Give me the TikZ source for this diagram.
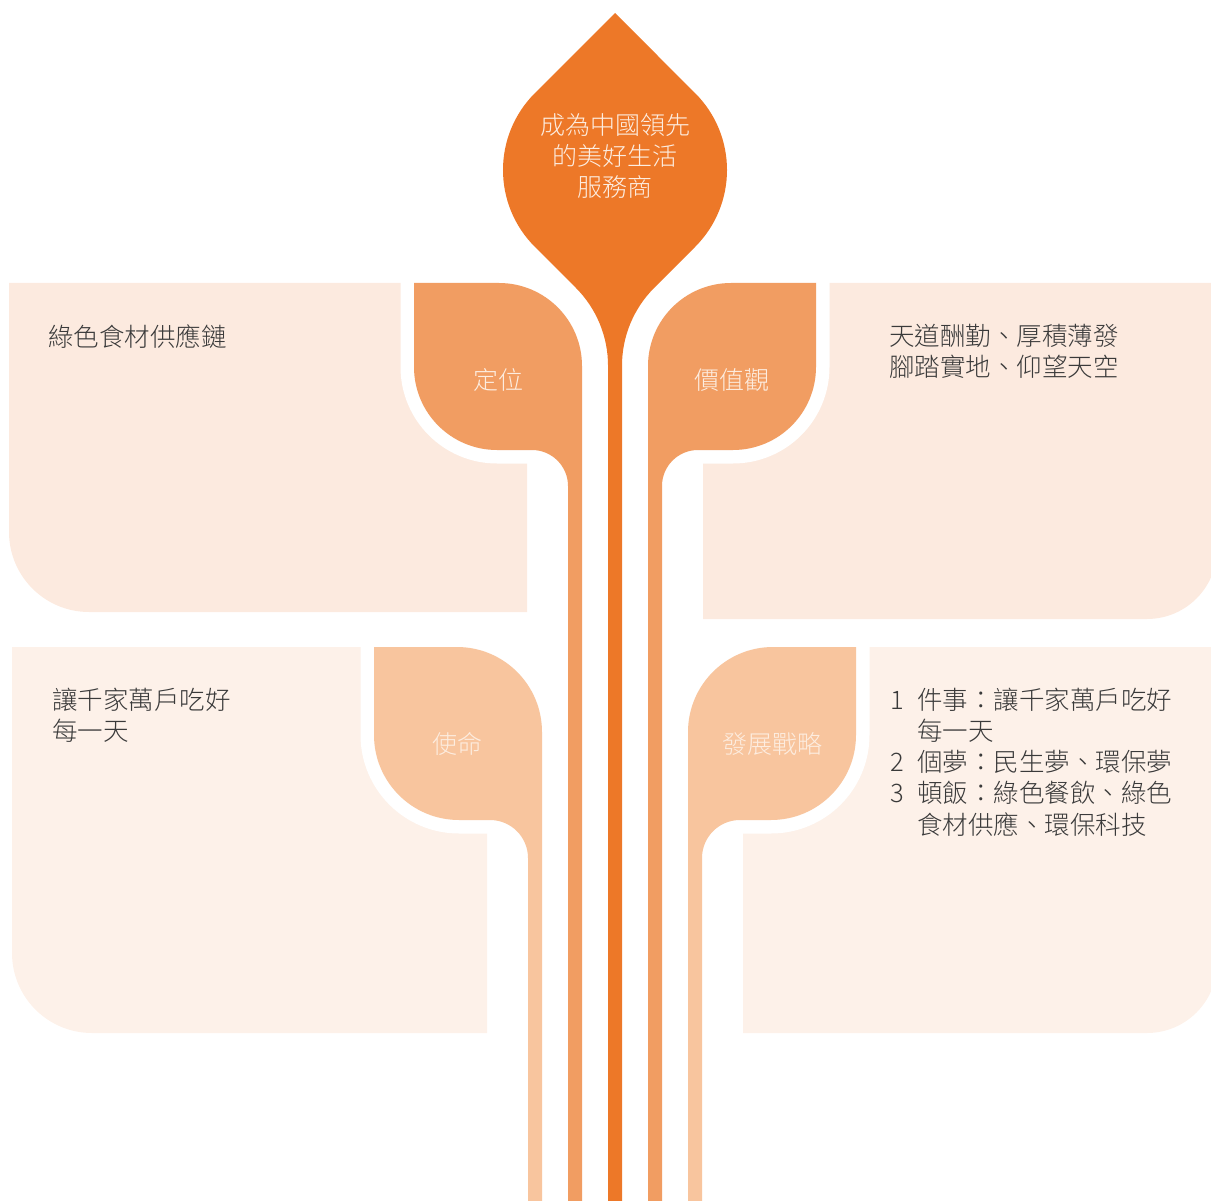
\documentclass[tikz,border=0pt]{standalone}
\usepackage{fontspec}
\IfFontExistsTF{Noto Sans CJK TC Light}{\setmainfont{Noto Sans CJK TC Light}}{\setmainfont{Noto Sans CJK TC}}
\usetikzlibrary{calc}
\definecolor{leafdark}{HTML}{ED7828}
\definecolor{leafmid}{HTML}{F19D62}
\definecolor{leaflight}{HTML}{F8C59E}
\definecolor{boxtop}{HTML}{FCEADF}
\definecolor{boxbottom}{HTML}{FDF1E9}
\definecolor{inkgrey}{HTML}{3A3A3A}
\definecolor{leafink}{HTML}{FDEDE0}
\tikzset{
	leafcut/.style={preaction={draw=white, line width=27pt, line join=round}},
	bodytext/.style={inner sep=0pt, text=inkgrey, font=\fontsize{25.5}{31}\selectfont},
	leaftext/.style={inner sep=0pt, text=leafink, font=\fontsize{25}{31}\selectfont}
}
% side leaf: (left,top)(stem right,bottom)(corner radius:fillet radius)
\def\sideleaf[#1](#2,#3)(#4,#5)(#6:#7){\path[#1] (#2,#3) -- ({#4-#6},#3) arc[start angle=-90,end angle=0,radius=#6] -- (#4,1215) -- ({#4-14},1215) -- ({#4-14},{#5+#7}) arc[start angle=0,end angle=-90,radius=#7] -- ({#2+#6},#5) arc[start angle=90,end angle=180,radius=#6] -- cycle;}
\def\linesof#1#2{\begin{tabular}{@{}#1@{}}#2\end{tabular}}

\begin{document}
\begin{tikzpicture}[x=1pt, y=-1pt]
		%%%%% START %%%%%
		\useasboundingbox (0,0) rectangle (1211,1201);
		\clip (0,0) rectangle (1211,1201);
		
		% boxes
		\fill[boxtop] (9,283) -- (527,283) -- (527,612) -- (89,612) arc[start angle=90,end angle=180,radius=80] -- cycle;
		\fill[boxtop] (703,283) -- (1217,283) -- (1217,549) arc[start angle=0,end angle=90,radius=70] -- (703,619) -- cycle;
		\fill[boxbottom] (12,647) -- (487,647) -- (487,1033) -- (92,1033) arc[start angle=90,end angle=180,radius=80] -- cycle;
		\fill[boxbottom] (743,647) -- (1217,647) -- (1217,963) arc[start angle=0,end angle=90,radius=70] -- (743,1033) -- cycle;
		
		% side leaves
		\sideleaf[leafcut, fill=leafmid](414,283)(582,450)(83:36)
		\sideleaf[leafcut, fill=leaflight](374,647)(542,820)(85:38)
		\begin{scope}[shift={(1230,0)}, xscale=-1]
			\sideleaf[leafcut, fill=leafmid](414,283)(582,450)(83:36)
			\sideleaf[leafcut, fill=leaflight](374,647)(542,820)(85:38)
		\end{scope}
		
		% centre leaf
		\fill[leafdark] (615,13) -- (534.8,93.2) arc[start angle=225,end angle=135,radius=108.6] -- (575.8,287.8) arc[start angle=-45,end angle=0,radius=110] -- (608,1215) -- (622,1215) -- (622,365.6) arc[start angle=180,end angle=225,radius=110] -- (695.2,246.8) arc[start angle=45,end angle=-45,radius=108.6] -- cycle;
		
		% texts
		\node[leaftext, anchor=north] (vision) at (615,113) {\linesof{c}{成為中國領先\\的美好生活\\服務商}};
		\node[leaftext, anchor=north] (position) at (498,368) {\linesof{c}{定位}};
		\node[leaftext, anchor=north] (values) at (732,368) {\linesof{c}{價值觀}};
		\node[leaftext, anchor=north] (mission) at (457,732) {\linesof{c}{使命}};
		\node[leaftext, anchor=north] (strategy) at (772,732) {\linesof{c}{發展戰略}};
		
		\node[bodytext, anchor=north west] (positiontext) at (48,324) {\linesof{l}{綠色食材供應鏈}};
		\node[bodytext, anchor=north west] (valuestext) at (889,324) {\linesof{l}{天道酬勤、厚積薄發\\腳踏實地、仰望天空}};
		\node[bodytext, anchor=north west] (missiontext) at (52,688) {\linesof{l}{讓千家萬戶吃好\\每一天}};
		\node[bodytext, anchor=north west] (strategytext) at (890,688) {\linesof{p{27pt}@{}l}{1 & 件事：讓千家萬戶吃好\\ & 每一天\\ 2 & 個夢：民生夢、環保夢\\ 3 & 頓飯：綠色餐飲、綠色\\ & 食材供應、環保科技}};
		
		%%%%% END %%%%%
\end{tikzpicture}
\end{document}
